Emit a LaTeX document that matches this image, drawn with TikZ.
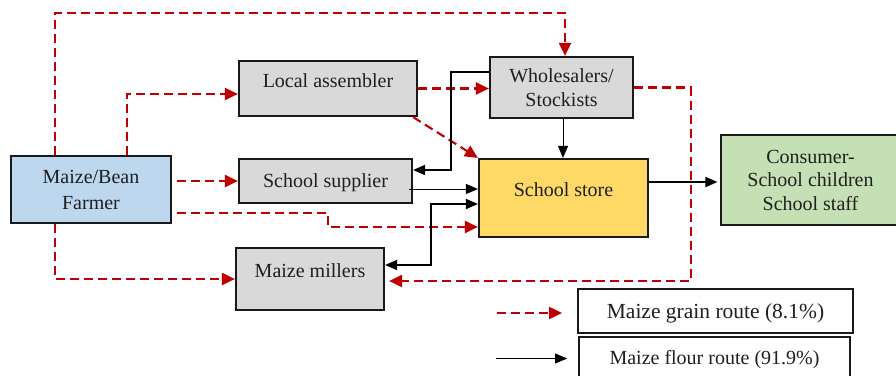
\documentclass[tikz,border=0pt]{standalone}
\usepackage{fontspec}
\setmainfont{Liberation Serif}
\usetikzlibrary{arrows.meta,calc}
\definecolor{grainred}{HTML}{C00000}
\definecolor{farmblue}{HTML}{BDD7EE}
\definecolor{boxgrey}{HTML}{D9D9D9}
\definecolor{storeyellow}{HTML}{FFD966}
\definecolor{consgreen}{HTML}{C5E0B4}
\begin{document}
\begin{tikzpicture}[x=1pt,y=-1pt,
  box/.style={draw=black!90, line width=2.2pt, inner sep=0pt, align=center,
    font=\fontsize{20}{23}\selectfont, text=black!88},
  oneline/.style={text height=14pt, text depth=#1},
  grain/.style={draw=grainred, line width=2.1pt, dash pattern=on 9pt off 5pt,
    -{Triangle[length=13pt,width=12pt]}},
  flour/.style={draw=black, line width=1.8pt, -{Triangle[length=12pt,width=10pt]}},
  thinflour/.style={draw=black, line width=0.9pt, -{Triangle[length=12pt,width=10pt]}},
]
\useasboundingbox (0,0) rectangle (896,375);
\clip (0,0) rectangle (896,375);

% boxes
\node[box, fill=farmblue, minimum width=160pt, minimum height=67pt,
  font=\fontsize{20}{26}\selectfont] (farmer) at (91,189.5) {Maize/Bean\\Farmer};
\node[box, fill=boxgrey, minimum width=178pt, minimum height=55pt, oneline=17pt]
  (la) at (328,88.5) {Local assembler};
\node[box, fill=boxgrey, minimum width=173pt, minimum height=44pt, oneline=2pt]
  (ss) at (325.5,181) {School supplier};
\node[box, fill=boxgrey, minimum width=148pt, minimum height=62pt, oneline=18pt]
  (mm) at (310,279) {Maize millers};
\node[box, fill=boxgrey, minimum width=143pt, minimum height=61pt,
  font=\fontsize{20}{24}\selectfont] (wh) at (561.5,87.5) {Wholesalers/\\Stockists};
\node[box, fill=storeyellow, minimum width=169pt, minimum height=78pt, oneline=16.6pt]
  (st) at (563.5,198) {School store};
\node[box, fill=consgreen, line width=1.1pt, minimum width=179pt, minimum height=90pt,
  font=\fontsize{20}{23.5}\selectfont] (co) at (810.5,180) {Consumer-\\School children\\School staff};
\node[box, fill=white, line width=1.8pt, minimum width=275pt, minimum height=44pt,
  font=\fontsize{21.5}{24}\selectfont, text height=14pt, text depth=0pt]
  (lg1) at (715.5,311) {Maize grain route (8.1\%)};
\node[box, fill=white, line width=1.8pt, minimum width=271pt, minimum height=43pt,
  font=\fontsize{20}{24}\selectfont, text height=14pt, text depth=3pt]
  (lg2) at (714.5,358.5) {Maize flour route (91.9\%)};

% bend points
\coordinate (topbend) at (300,13);
\coordinate (c4) at (328,227);
\coordinate (c8) at (691,281);
\coordinate (c9) at (451,170);
\coordinate (c11) at ([xshift=-4pt,yshift=-8pt]ss.east);
\coordinate (c12) at (431,204);

% maize grain route
\draw[grain] ([xshift=45pt]farmer.north west) |- (topbend) -| ([xshift=3.5pt]wh.north);
\draw[grain] ([xshift=117pt]farmer.north west) |- ([yshift=-5.5pt]la.west);
\draw[grain, shorten <=5pt] (farmer.east |- ss.west) -- (ss.west);
\draw[grain, shorten <=5pt] ([yshift=-23.5pt]farmer.east) -| (c4) |- ([yshift=-29pt]st.west);
\draw[grain] ([xshift=45pt]farmer.south west) |- (mm.west);
\draw[grain] (la.east) -- (la.east -| wh.west);
\draw[grain] ([xshift=-5pt]la.south east) -- (st.north west);
\draw[grain, shorten >=4pt] (wh.east) -| (c8) -- (c8 -| mm.east);

% maize flour route
\draw[flour] ([yshift=15.5pt]wh.west) -| (c9) -- ([yshift=11pt]ss.east);
\draw[thinflour] ([xshift=1.5pt]wh.south) -- ([xshift=1.5pt]wh.south |- st.north);
\draw[thinflour] (c11) -- (c11 -| st.west);
\draw[flour, {Triangle[length=12pt,width=10pt]}-{Triangle[length=12pt,width=10pt]}]
  ([yshift=14pt]mm.east) -| (c12) -- (c12 -| st.west);
\draw[flour, shorten >=3pt] ([yshift=16pt]st.east) -- ([yshift=-2pt]co.west);

% legend arrows
\draw[grain] ([xshift=-80pt,yshift=-2pt]lg1.west) -- ([xshift=-15pt,yshift=-2pt]lg1.west);
\draw[thinflour] ([xshift=-82pt]lg2.west) -- ([xshift=-11pt]lg2.west);
\end{tikzpicture}
\end{document}
